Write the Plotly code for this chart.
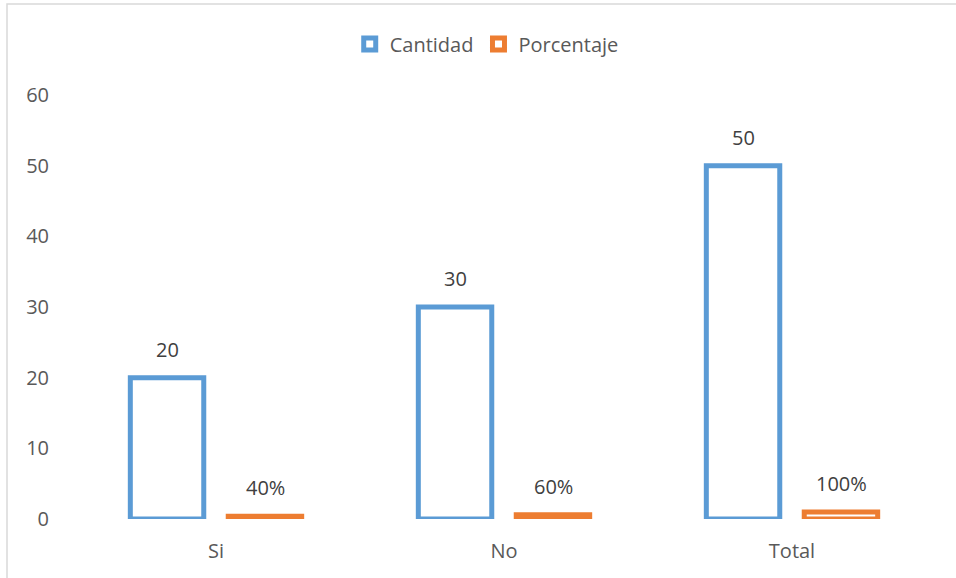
import plotly.graph_objects as go

categories = ["Si", "No", "Total"]
cantidad = [20, 30, 50]
porcentaje = [0.4, 0.6, 1.0]
porcentaje_labels = ["40%", "60%", "100%"]
cantidad_labels = ["20", "30", "50"]
y_ticks = [0, 10, 20, 30, 40, 50, 60]

BLUE = "#5B9BD5"
ORANGE = "#ED7D31"
FONT = "Open Sans"
FS = 20

fig = go.Figure()
fig.add_trace(go.Bar(
    name="Cantidad", x=categories, y=cantidad,
    marker=dict(color="white", line=dict(color=BLUE, width=5)),
))
fig.add_trace(go.Bar(
    name="Porcentaje", x=categories, y=porcentaje,
    marker=dict(color="white", line=dict(color=ORANGE, width=5)),
))

annotations = []
for cat, v, lab in zip(categories, cantidad, cantidad_labels):
    annotations.append(dict(x=cat, y=v, text=lab, showarrow=False, xshift=-49,
                            yanchor="bottom", yshift=13,
                            font=dict(color="#404040", size=FS, family=FONT)))
for cat, v, lab in zip(categories, porcentaje, porcentaje_labels):
    annotations.append(dict(x=cat, y=v, text=lab, showarrow=False, xshift=49,
                            yanchor="bottom", yshift=13,
                            font=dict(color="#404040", size=FS, family=FONT)))

fig.update_layout(
    width=956, height=578,
    margin=dict(l=72, r=20, t=95, b=59, autoexpand=False),
    paper_bgcolor="white", plot_bgcolor="white",
    barmode="group", bargap=0.32, bargroupgap=0.25,
    font=dict(family=FONT, color="#595959", size=FS),
    showlegend=True,
    legend=dict(orientation="h", x=0.48, xanchor="center", y=(519 - 44) / 424,
                yanchor="middle", bgcolor="rgba(0,0,0,0)",
                font=dict(size=FS, color="#595959", family=FONT),
                itemwidth=30, traceorder="normal"),
    xaxis=dict(showline=False, showgrid=False, ticks="", zeroline=False,
               ticklabelstandoff=18, tickfont=dict(size=FS, color="#595959")),
    yaxis=dict(range=[0, 60], tickvals=y_ticks, showgrid=False, showline=False,
               zeroline=False, ticks="", ticklabelstandoff=22,
               tickfont=dict(size=FS, color="#595959")),
    annotations=annotations,
    shapes=[dict(type="rect", xref="paper", yref="paper",
                 x0=(7 - 72) / 864, x1=1.2, y0=-0.3, y1=(519 - 4) / 424,
                 line=dict(color="#D9D9D9", width=1.5), fillcolor="rgba(0,0,0,0)",
                 layer="below")],
)

fig.write_html("out.html")
